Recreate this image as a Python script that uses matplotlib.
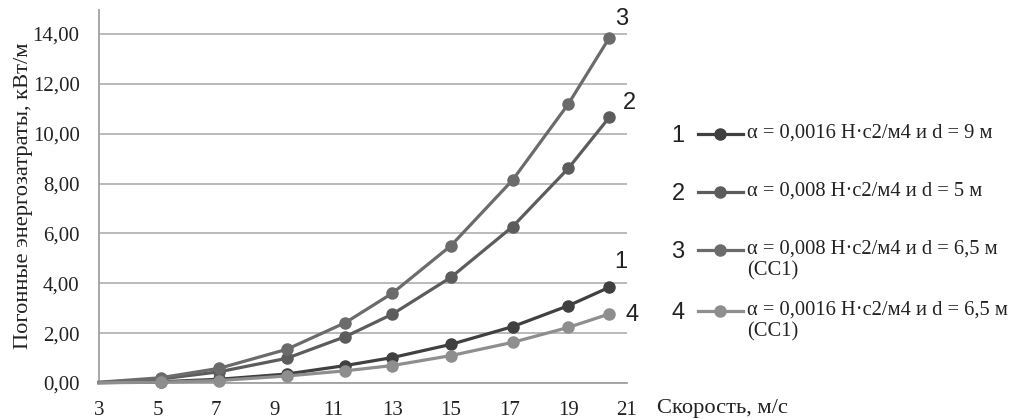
import matplotlib
matplotlib.use("Agg")
import matplotlib.pyplot as plt
from matplotlib.lines import Line2D

speed = [3, 5.1, 7.1, 9.4, 11.4, 13.0, 15.0, 17.1, 19.0, 20.4]
s1 = [0.01, 0.05, 0.15, 0.36, 0.70, 1.02, 1.55, 2.26, 3.10, 3.84]
s2 = [0.02, 0.16, 0.45, 0.99, 1.86, 2.76, 4.24, 6.27, 8.61, 10.66]
s3 = [0.03, 0.21, 0.59, 1.35, 2.42, 3.60, 5.51, 8.14, 11.19, 13.85]
s4 = [0.01, 0.03, 0.10, 0.28, 0.49, 0.70, 1.10, 1.63, 2.23, 2.77]

series_ids = ["1", "2", "3", "4"]
series_labels = [
    "α = 0,0016 Н·с2/м4 и d = 9 м",
    "α = 0,008 Н·с2/м4 и d = 5 м",
    "α = 0,008 Н·с2/м4 и d = 6,5 м\n(СС1)",
    "α = 0,0016 Н·с2/м4 и d = 6,5 м\n(СС1)",
]
colors = ["#404040", "#5c5c5c", "#6b6b6b", "#8e8e8e"]
xticks = [3, 5, 7, 9, 11, 13, 15, 17, 19, 21]
yticks = [0, 2, 4, 6, 8, 10, 12, 14]
ytick_labels = ["0,00", "2,00", "4,00", "6,00", "8,00", "10,00", "12,00", "14,00"]

serif = "Liberation Serif"
sans = "Liberation Sans"

fig = plt.figure(figsize=(10.14, 4.19), dpi=100)
ax = fig.add_axes([99 / 1014, 1 - 383 / 419, (627 - 99) / 1014, (383 - 10) / 419])

data = [s1, s2, s3, s4]
for vals, c in zip(data, colors):
    ax.plot(speed, vals, color=c, lw=2.3, marker="o", ms=8,
            markevery=slice(1, None), clip_on=False, zorder=3)

ax.set_xlim(3, 21)
ax.set_ylim(0, 14.96)
ax.set_xticks(xticks)
ax.set_xticklabels([str(t) for t in xticks], fontfamily=serif, fontsize=15)
ax.set_yticks(yticks)
ax.set_yticklabels(ytick_labels, fontfamily=serif, fontsize=15)
ax.tick_params(axis="y", length=0, pad=14, colors="#222222")
ax.tick_params(axis="x", length=0, pad=13, colors="#222222")
ax.grid(axis="y", color="#b4b4b4", lw=1.3)
ax.set_axisbelow(True)
for sp in ["top", "right"]:
    ax.spines[sp].set_visible(False)
for sp in ["left", "bottom"]:
    ax.spines[sp].set_color("#a0a0a0")
    ax.spines[sp].set_linewidth(1.3)

ax.set_ylabel("Погонные энергозатраты, кВт/м", fontfamily=serif, fontsize=16.2,
              color="#222222")
ax.yaxis.set_label_coords(-(99 - 33) / 528, (383 - 196) / 373)

fig.text(657 / 1014, 1 - 408 / 419, "Скорость, м/с", fontfamily=serif, fontsize=16.2,
         color="#222222", ha="left", va="center")

# end labels
end_offsets = {"1": (11, 25), "2": (20, 14), "3": (12, 19), "4": (23, -1)}
for sid, vals in zip(series_ids, data):
    dx, dy = end_offsets[sid]
    ax.annotate(sid, (speed[-1], vals[-1]), xytext=(dx, dy), textcoords="offset pixels",
                fontfamily=sans, fontsize=17, color="#222222", ha="center", va="center")

# legend
rows = [134, 192, 250, 311]
for sid, lab, c, ry in zip(series_ids, series_labels, colors, rows):
    yf = 1 - ry / 419
    fig.text(678 / 1014, yf - 2 / 419, sid, fontfamily=sans, fontsize=17, color="#222222",
             ha="center", va="center")
    fig.add_artist(Line2D([698 / 1014, 743 / 1014], [yf, yf], color=c, lw=2.3,
                          transform=fig.transFigure))
    fig.add_artist(Line2D([720 / 1014], [yf], color=c, marker="o", ms=8,
                          transform=fig.transFigure))
    fig.text(747 / 1014, yf + 0.024, lab, fontfamily=serif, fontsize=14.8, color="#222222",
             ha="left", va="top", linespacing=1.15)

fig.savefig("out.png", dpi=100)
